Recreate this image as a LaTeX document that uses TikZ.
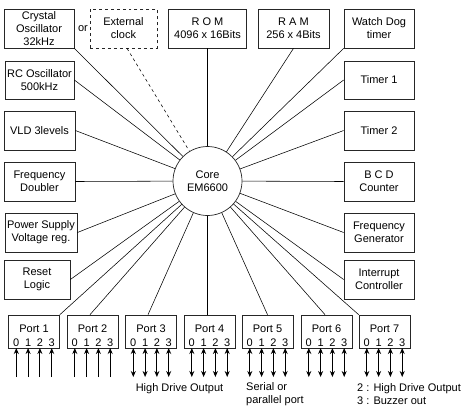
\documentclass[tikz,border=0pt]{standalone}
\usepackage{fontspec}
\setmainfont{Liberation Sans}
\usetikzlibrary{arrows.meta,calc}
\begin{document}
\begin{tikzpicture}[x=1bp,y=-1bp,
  every node/.style={font=\fontsize{11bp}{13bp}\selectfont, inner sep=0pt},
  blk/.style={draw=black!85, line width=0.7bp, align=center, minimum height=39bp},
  portbox/.style={draw=black!85, line width=0.7bp, minimum width=51bp, minimum height=33bp},
  link/.style={draw=black, line width=0.55bp},
  uparr/.style={line width=0.9bp, -{Stealth[length=6bp,width=5bp]}},
  bothar/.style={line width=0.9bp, {Stealth[length=6bp,width=5bp]}-{Stealth[length=6bp,width=5bp]}}]
\useasboundingbox[fill=white] (0,0) rectangle (464,411);

% core
\node[circle, draw=black!85, line width=0.7bp, minimum size=69bp, align=center] (core) at (207.5,181) {Core\\EM6600};

% top row
\node[blk, minimum width=70bp] (xtal) at (39,28.5) {Crystal\\Oscillator\\32kHz};
\node (or) at (83,29) {or};
\node[blk, dashed, minimum width=67bp] (ext) at (123.5,28.5) {External\\clock};
\node[blk, minimum width=78bp] (rom) at (207.5,28.5) {R O M\\4096 x 16Bits};
\node[blk, minimum width=71bp] (ram) at (293.5,28.5) {R A M\\256 x 4Bits};
\node[blk, minimum width=70bp] (wdog) at (379,28.5) {Watch Dog\\timer};

% left column
\node[blk, minimum width=69bp, minimum height=38bp] (rc) at (39.5,80) {RC Oscillator\\500kHz};
\node[blk, minimum width=71bp] (vld) at (39.5,130.5) {VLD 3levels};
\node[blk, minimum width=71bp] (fdbl) at (39.5,181.5) {Frequency\\Doubler};
\node[blk, minimum width=72bp] (psu) at (41,232.5) {Power Supply\\Voltage reg.};
\node[blk, minimum width=66bp] (rst) at (37,279.5) {Reset\\Logic};

% right column
\node[blk, minimum width=70bp, minimum height=38bp] (t1) at (379,80) {Timer 1};
\node[blk, minimum width=70bp] (t2) at (379,130.5) {Timer 2};
\node[blk, minimum width=70bp] (bcd) at (379,181.5) {B C D\\Counter};
\node[blk, minimum width=70bp] (fgen) at (379,232.5) {Frequency\\Generator};
\node[blk, minimum width=70bp] (irq) at (379,279.5) {Interrupt\\Controller};

% ports
\foreach \i/\cx in {1/34,2/92.5,3/151,4/209.5,5/267.5,6/326.5,7/384.5}{
  \node[portbox] (port\i) at (\cx,331.5) {};
  \node (pl\i) at (\cx,329) {Port \i};
  \foreach \d/\off in {0/-17.7,1/-5.9,2/5.9,3/17.7}{
    \node (pd\i\d) at (\cx+\off,342.5) {\d};
    \coordinate (pa\i\d) at (\cx+\off,348);
    \coordinate (pb\i\d) at (\cx+\off,377);
  }
}
\foreach \i in {1,2}{\foreach \d in {0,1,2,3}{\draw[uparr] (pb\i\d) -- (pa\i\d);}}
\foreach \i in {3,4,5,6,7}{\foreach \d in {0,1,2,3}{\draw[bothar] (pb\i\d) -- (pa\i\d);}}

% labels under ports
\node (hdo) at (179.5,389) {High Drive Output};
\node[anchor=west, align=left] (ser) at (246,394.5) {Serial or\\parallel port};
\node[anchor=west, align=left] (p7n) at (357,394.5) {2 : High Drive Output\\3 : Buzzer out};

% connectors
\draw[link] (xtal.south east) -- (core);
\draw[link, dashed] ($(ext.south)+(3.5,0)$) -- (core);
\draw[link] (rom.south) -- (core);
\draw[link] (ram.south) -- (core);
\draw[link] (wdog.south west) -- (core);
\draw[link] (rc.east) -- (core);
\draw[link] (vld.east) -- (core);
\draw[link] (fdbl.east) -- (core);
\draw[link] (psu.east) -- (core);
\draw[link] (rst.east) -- (core);
\draw[link] (t1.west) -- (core);
\draw[link] (t2.west) -- (core);
\draw[link] (bcd.west) -- (core);
\draw[link] (fgen.west) -- (core);
\draw[link] (irq.west) -- (core);
\draw[link] (port1.north east) -- (core);
\draw[link] ($(port2.north)+(-2.5,0)$) -- (core);
\draw[link] ($(port3.north)+(-3,0)$) -- (core);
\draw[link] (port4.north -| core) -- (core);
\draw[link] (port5.north) -- (core);
\draw[link] ($(port6.north)+(-1.5,0)$) -- (core);
\draw[link] (port7.north west) -- (core);
\end{tikzpicture}
\end{document}
